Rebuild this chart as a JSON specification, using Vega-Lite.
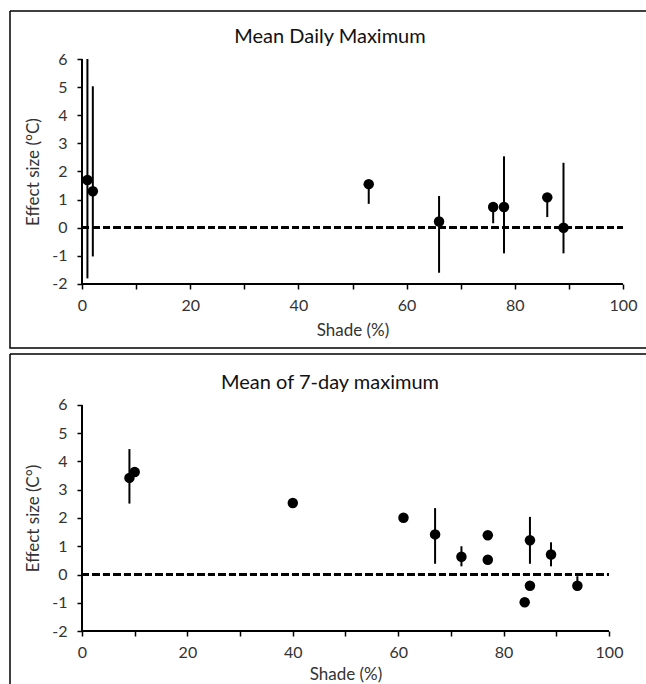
{
  "$schema": "https://vega.github.io/schema/vega-lite/v6.json",
  "padding": {"left": 9, "top": 10, "right": 0, "bottom": 0},
  "spacing": 4,
  "config": {
    "font": "Lato",
    "axis": {"grid": false, "domain": false, "tickColor": "#000", "tickWidth": 1.5, "tickSize": 5, "labelFont": "Lato", "labelFontSize": 16, "labelColor": "#333", "titleFont": "Lato", "titleFontSize": 17, "titleFontWeight": "normal", "titleColor": "#333"},
    "title": {"font": "Lato", "fontSize": 20, "fontWeight": "normal", "color": "#111", "anchor": "middle", "frame": "group", "baseline": "alphabetic"}
  },
  "vconcat": [
    {
      "width": 640,
      "height": 337,
      "view": {"stroke": "#000", "strokeWidth": 1.5, "strokeDash": [640, 337, 977, 0]},
      "title": {"text": "Mean Daily Maximum", "offset": -36},
      "data": {"values": [
        {"x": 1, "y": 1.7, "low": -1.8, "high": 6.0},
        {"x": 2, "y": 1.3, "low": -1.02, "high": 5.03},
        {"x": 53, "y": 1.55, "low": 0.85, "high": 1.55},
        {"x": 66, "y": 0.22, "low": -1.6, "high": 1.13},
        {"x": 76, "y": 0.74, "low": 0.16, "high": 0.74},
        {"x": 78, "y": 0.74, "low": -0.91, "high": 2.54},
        {"x": 86, "y": 1.08, "low": 0.38, "high": 1.08},
        {"x": 89, "y": 0.0, "low": -0.91, "high": 2.31}
      ]},
      "layer": [
        {"mark": {"type": "rule", "color": "#000", "strokeWidth": 2.5, "strokeDash": [7, 3.5]},
         "encoding": {"x": {"datum": 0}, "x2": {"datum": 100}, "y": {"datum": 0}}},
        {"mark": {"type": "rule", "color": "#000", "strokeWidth": 1.5},
         "encoding": {"x": {"datum": 0}, "x2": {"datum": 100}, "y": {"datum": -2}}},
        {"mark": {"type": "rule", "color": "#000", "strokeWidth": 1.5},
         "encoding": {"x": {"datum": 0}, "y": {"datum": -2}, "y2": {"datum": 6}}},
        {"mark": {"type": "rule", "color": "#000", "strokeWidth": 2},
         "encoding": {
           "x": {"field": "x", "type": "quantitative", "scale": {"domain": [-13.31, 104.99], "nice": false, "zero": false},
                 "axis": {"title": "Shade (%)", "values": [0,10,20,30,40,50,60,70,80,90,100], "labelExpr": "datum.value % 20 === 0 ? '' + datum.value : ''", "offset": -64, "labelPadding": 8, "titleX": 342.5, "titleY": 38, "titleBaseline": "top"}},
           "y": {"field": "low", "type": "quantitative", "scale": {"domain": [-4.2756, 7.7067], "nice": false, "zero": false},
                 "axis": {"title": "Effect size (°C)", "values": [-2,-1.5,-1,-0.5,0,0.5,1,1.5,2,2.5,3,3.5,4,4.5,5,5.5,6], "labelExpr": "datum.value % 1 === 0 ? '' + datum.value : ''", "offset": -72, "labelPadding": 10, "titleX": -40, "titleY": 160.5, "titleBaseline": "bottom"}},
           "y2": {"field": "high"}
         }},
        {"mark": {"type": "circle", "color": "#000", "opacity": 1, "size": 110},
         "encoding": {"x": {"field": "x", "type": "quantitative"}, "y": {"field": "y", "type": "quantitative"}}}
      ]
    },
    {
      "width": 640,
      "height": 333,
      "view": {"stroke": "#000", "strokeWidth": 1.5, "strokeDash": [640, 973, 333, 0]},
      "title": {"text": "Mean of 7-day maximum", "offset": -39},
      "data": {"values": [
        {"x": 9, "y": 3.42, "low": 2.51, "high": 4.44},
        {"x": 10, "y": 3.63},
        {"x": 40, "y": 2.53},
        {"x": 61, "y": 2.01},
        {"x": 67, "y": 1.42, "low": 0.38, "high": 2.35},
        {"x": 72, "y": 0.63, "low": 0.29, "high": 1.0},
        {"x": 77, "y": 1.39},
        {"x": 77, "y": 0.52},
        {"x": 85, "y": 1.21, "low": 0.38, "high": 2.04},
        {"x": 85, "y": -0.4},
        {"x": 84, "y": -0.98},
        {"x": 89, "y": 0.71, "low": 0.29, "high": 1.14},
        {"x": 94, "y": -0.4, "low": -0.58, "high": -0.06}
      ]},
      "layer": [
        {"mark": {"type": "rule", "color": "#000", "strokeWidth": 2.5, "strokeDash": [7, 3.5]},
         "encoding": {"x": {"datum": 0}, "x2": {"datum": 100}, "y": {"datum": 0}}},
        {"mark": {"type": "rule", "color": "#000", "strokeWidth": 1.5},
         "encoding": {"x": {"datum": 0}, "x2": {"datum": 100}, "y": {"datum": -2}}},
        {"mark": {"type": "rule", "color": "#000", "strokeWidth": 1.5},
         "encoding": {"x": {"datum": 0}, "y": {"datum": -2}, "y2": {"datum": 6}}},
        {"mark": {"type": "rule", "color": "#000", "strokeWidth": 2},
         "encoding": {
           "x": {"field": "x", "type": "quantitative", "scale": {"domain": [-13.66, 107.78], "nice": false, "zero": false},
                 "axis": {"title": "Shade (%)", "values": [0,10,20,30,40,50,60,70,80,90,100], "labelExpr": "datum.value % 20 === 0 ? '' + datum.value : ''", "offset": -56, "labelPadding": 8, "titleX": 335.5, "titleY": 35, "titleBaseline": "top"}},
           "y": {"field": "low", "type": "quantitative", "scale": {"domain": [-3.982, 7.805], "nice": false, "zero": false},
                 "axis": {"title": "Effect size (C°)", "values": [-2,-1.5,-1,-0.5,0,0.5,1,1.5,2,2.5,3,3.5,4,4.5,5,5.5,6], "labelExpr": "datum.value % 1 === 0 ? '' + datum.value : ''", "offset": -72, "labelPadding": 10, "titleX": -40, "titleY": 164, "titleBaseline": "bottom"}},
           "y2": {"field": "high"}
         }},
        {"mark": {"type": "circle", "color": "#000", "opacity": 1, "size": 110},
         "encoding": {"x": {"field": "x", "type": "quantitative"}, "y": {"field": "y", "type": "quantitative"}}}
      ]
    }
  ]
}
